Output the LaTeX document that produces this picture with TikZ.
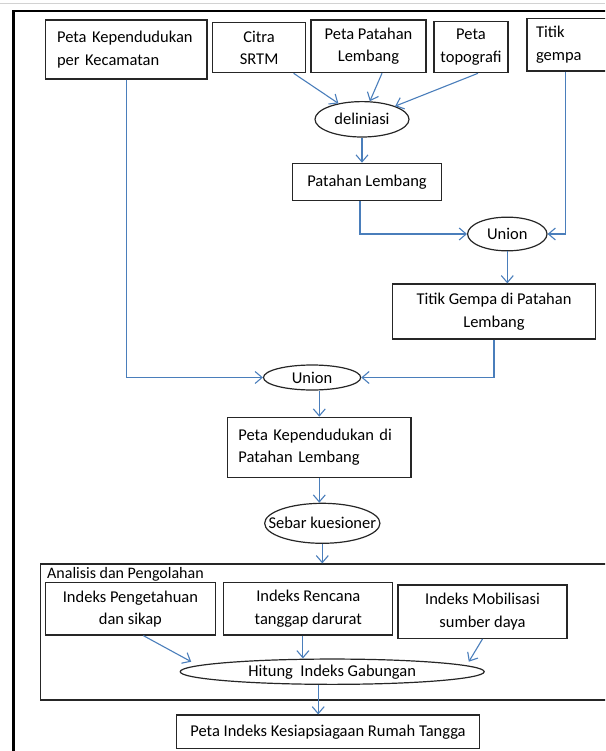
\documentclass[tikz,border=0pt]{standalone}
\usepackage{fontspec}
\setmainfont{Carlito}
\usetikzlibrary{arrows.meta, shapes.geometric}

\definecolor{arrowblue}{RGB}{74,126,187}
\definecolor{boxline}{RGB}{38,38,38}
\newcommand{\ovaltext}[1]{\makebox[0pt]{#1}}

\begin{document}
\begin{tikzpicture}
      [x=1pt, y=-1pt,
      every node/.style={font=\fontsize{16.5}{22.5}\selectfont},
      box/.style={draw=boxline, line width=1.2pt, inner sep=2pt, align=center},
      oval/.style={ellipse, draw=boxline, line width=1.2pt, inner sep=0pt},
      arr/.style={-{Straight Barb[length=7pt,width=12pt]}, draw=arrowblue, line width=1.1pt}]
      \path[use as bounding box, clip] (0,0) rectangle (605,751);
      % page frame
      \draw[gray!35, line width=1pt] (0,3.3) -- (605,3.3);
      \draw[black, line width=2.6pt] (13.3,760) -- (13.3,10.2);
      \draw[black, line width=1.6pt] (12,11) -- (620,11);
      % inputs
      \node (kepend) at (126.3, 49.5) [box, align=left, text width=138.5pt, inner xsep=11.5pt, minimum height=59pt] {Peta Kependudukan\\per Kecamatan};
      \node (citra) at (259.1, 47.7) [box, minimum width=93pt, minimum height=50pt] {Citra\\SRTM};
      \node (patpeta) at (368.5, 46.3) [box, minimum width=115pt, minimum height=52.7pt] {Peta Patahan\\Lembang};
      \node (topo) at (471, 47.2) [box, minimum width=74pt, minimum height=51pt] {Peta\\topografi};
      \node (gempa) at (573.5, 44.7) [box, align=left, text width=75pt, inner xsep=9pt, minimum height=52.7pt] {Titik\\gempa};
      % processing
      \node (delin) at (362, 119.3) [oval, minimum width=94pt, minimum height=35.4pt] {\ovaltext{deliniasi}};
      \node (patahan) at (367, 182) [box, minimum width=149.3pt, minimum height=37.4pt] {Patahan Lembang};
      \node (union1) at (507.3, 234) [oval, minimum width=79.4pt, minimum height=33.7pt] {\ovaltext{Union}};
      \node (gempapat) at (494, 311.5) [box, minimum width=202.6pt, minimum height=55pt] {Titik Gempa di Patahan\\Lembang};
      \node (union2) at (312.1, 377.5) [oval, minimum width=97.2pt, minimum height=25pt] {\ovaltext{Union}};
      \node (kependpat) at (319.3, 447.3) [box, align=left, text width=161.8pt, inner xsep=10.8pt, minimum height=60pt] {Peta Kependudukan di\\Patahan Lembang};
      \node (sebar) at (322.3, 523.3) [oval, minimum width=115.3pt, minimum height=40pt] {\ovaltext{Sebar kuesioner}};
      % analysis block
      \node (analisis) at (332.75, 632) [draw=boxline, line width=1.2pt, minimum width=584.5pt, minimum height=136pt] {};
      \node (analisislbl) at (47, 578) [anchor=base west, inner sep=0pt, font=\fontsize{16}{20}\selectfont] {Analisis dan Pengolahan};
      \node (ip) at (130.4, 608.9) [box, minimum width=169.8pt, minimum height=52.3pt] {Indeks Pengetahuan\\dan sikap};
      \node (ir) at (308.3, 608.9) [box, minimum width=168.9pt, minimum height=52.3pt] {Indeks Rencana\\tanggap darurat};
      \node (im) at (482.5, 611.7) [box, minimum width=169pt, minimum height=53.3pt] {Indeks Mobilisasi\\sumber daya};
      \node (hitung) at (332.2, 671.7) [oval, minimum width=304pt, minimum height=25.3pt] {\ovaltext{Hitung\ \ Indeks Gabungan}};
      \node (peta) at (328, 731.7) [box, minimum width=302.5pt, minimum height=33.3pt] {Peta Indeks Kesiapsiagaan Rumah Tangga};
      % connectors
      \draw[arr] (kepend.south) |- (union2.west);
      \path ([xshift=-12.6pt]citra.south east) edge[arr] (delin);
      \path ([xshift=13.5pt]patpeta.south) edge[arr] (delin);
      \path ([xshift=7pt]topo.south) edge[arr] (delin);
      \draw[arr] (delin.south) -- (delin.south |- patahan.north);
      \draw[arr] ([xshift=-7pt]patahan.south) |- (union1.west);
      \draw[arr] ([xshift=-8pt]gempa.south) |- (union1.east);
      \draw[arr] (union1.south) -- (union1.south |- gempapat.north);
      \draw[arr] (gempapat.south) |- (union2.east);
      \draw[arr] (union2.south -| kependpat.north) -- (kependpat.north);
      \draw[arr] (kependpat.south) -- (kependpat.south |- sebar.north);
      \draw[arr] (sebar.south) -- (sebar.south |- analisis.north);
      \draw[arr] ([xshift=13pt]ip.south) -- ([shift={(-141,-10)}]hitung.center);
      \draw[arr] ([xshift=-5.4pt]ir.south) -- ([xshift=-5.4pt]ir.south |- hitung.north);
      \draw[arr] (im.south) -- ([shift={(136.6,-10)}]hitung.center);
      \draw[arr] ([xshift=-14pt]hitung.south) -- ([xshift=-14pt]hitung.south |- peta.north);
    \end{tikzpicture}
\end{document}
